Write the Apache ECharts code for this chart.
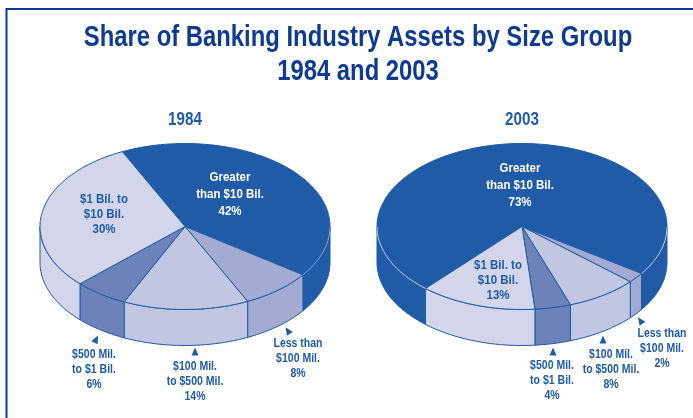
<!DOCTYPE html>
<html><head><meta charset="utf-8">
<style>html,body{margin:0;padding:0;background:#fff}#c{width:693px;height:418px}</style>
<script src="https://cdn.jsdelivr.net/npm/echarts@6/dist/echarts.min.js"></script>
</head><body><div id="c"></div>
<script>
// ---- data ----
const categories = ['Greater than $10 Bil.', 'Less than $100 Mil.', '$100 Mil. to $500 Mil.', '$500 Mil. to $1 Bil.', '$1 Bil. to $10 Bil.'];
const labels = ['Greater\nthan $10 Bil.', 'Less than\n$100 Mil.', '$100 Mil.\nto $500 Mil.', '$500 Mil.\nto $1 Bil.', '$1 Bil. to\n$10 Bil.'];
const values1984 = [42, 8, 14, 6, 30];
const values2003 = [73, 2, 8, 4, 13];
const titleLines = ['Share of Banking Industry Assets by Size Group', '1984 and 2003'];
// ---- style & layout (not data) ----
const DARK = '#1F5BA6';
const colors = [DARK, '#A3ABD3', '#C1C6E3', '#6E82BA', '#D3D6EB'];
const FONT = '"Liberation Sans",sans-serif';
const pie1984 = {cx:185, cy:226.5, rx:145, ry:83, depth:36, start:-25.6, rim:'#9DB5DC',
  text:[[230,194.5],[298,358.5],[195,382],[94,370],[104,214.5]],
  arrows:[null,[288,331,32],[195,352,0],[96,339.5,-25],null]};
const pie2003 = {cx:522, cy:226.5, rx:145, ry:83, depth:36, start:-138.3, rim:'#E6ECF6',
  text:[[520,186],[662,349],[611,370],[552,381],[498,281]],
  arrows:[null,[640.5,321,35],[603,340,0],[553,352,0],null]};

function pt(p, deg, drop){
  const t = deg*Math.PI/180;
  return [p.cx + p.rx*Math.sin(t), p.cy - p.ry*Math.cos(t) + (drop||0)];
}
function arc(p, a, b, drop){
  const n = Math.max(2, Math.ceil(Math.abs(b-a)/2)), out = [];
  for(let i=0;i<=n;i++) out.push(pt(p, a+(b-a)*i/n, drop));
  return out;
}
function makeSeries(name, values, p){
  let run = 0;
  const data = values.map((v,i)=>{const d={name:categories[i], value:[v, run]}; run+=v; return d;});
  return {
    type:'custom', name, coordinateSystem:'none', silent:true, animation:false, data,
    renderItem(params, api){
      const i = params.dataIndex, v = api.value(0), s = api.value(1);
      const a = p.start + s*3.6, b = a + v*3.6;
      const color = colors[i], kids = [];
      [0,360,-360].forEach(off=>{
        const lo = Math.max(a+off,90), hi = Math.min(b+off,270);
        if(hi>lo){
          const top = arc(p,lo,hi,0), bot = arc(p,hi,lo,p.depth);
          kids.push({type:'polygon', z2:1, shape:{points:top.concat(bot)},
            style:{fill:color, stroke:DARK, lineWidth:1}});
          if(color===DARK) kids.push({type:'polyline', z2:3, shape:{points:top},
            style:{fill:null, stroke:p.rim, lineWidth:0.8}});
        }
      });
      kids.push({type:'polygon', z2:2, shape:{points:[[p.cx,p.cy]].concat(arc(p,a,b,0))},
        style:{fill:color, stroke:DARK, lineWidth:1, lineJoin:'round'}});
      const tp = p.text[i];
      const isInner = (i===0||i===4);
      kids.push({type:'text', z2:5, x:tp[0], y:tp[1], scaleX:isInner?0.92:0.84,
        style:{x:0, y:0, text:labels[i]+'\n'+v+'%', align:'center', verticalAlign:'middle',
        fill: color===DARK ? '#fff' : DARK, font:'bold 12.5px '+FONT, lineHeight:i===0?17:15}});
      const ar = p.arrows[i];
      if(ar){
        kids.push({type:'polygon', z2:5, x:ar[0], y:ar[1], rotation:ar[2]*Math.PI/180,
          shape:{points:[[0,-4.5],[3.5,3.5],[-3.5,3.5]]}, style:{fill:DARK}});
      }
      return {type:'group', children:kids};
    }
  };
}
function heading(text, x, y, size, fill, sx){
  return {type:'text', silent:true, x, y, scaleX:sx,
    style:{x:0, y:0, text, align:'center', verticalAlign:'middle', fill, font:'bold '+size+'px '+FONT}};
}
const chart = echarts.init(document.getElementById('c'), null, {renderer:'canvas'});
chart.setOption({
  backgroundColor:'#fff', animation:false,
  graphic:[
    {type:'polyline', silent:true, shape:{points:[[6.5,418],[6.5,9],[693,9]]}, style:{fill:null, stroke:'#0A3A97', lineWidth:2}},
    heading(titleLines[0], 358, 38, 29, '#0F3A93', 0.822),
    heading(titleLines[1], 358, 72, 29, '#0F3A93', 0.822),
    heading('1984', 185, 120, 19, DARK, 0.8),
    heading('2003', 522, 120, 19, DARK, 0.8)
  ],
  series:[
    makeSeries('1984', values1984, pie1984),
    makeSeries('2003', values2003, pie2003)
  ]
});
</script></body></html>
